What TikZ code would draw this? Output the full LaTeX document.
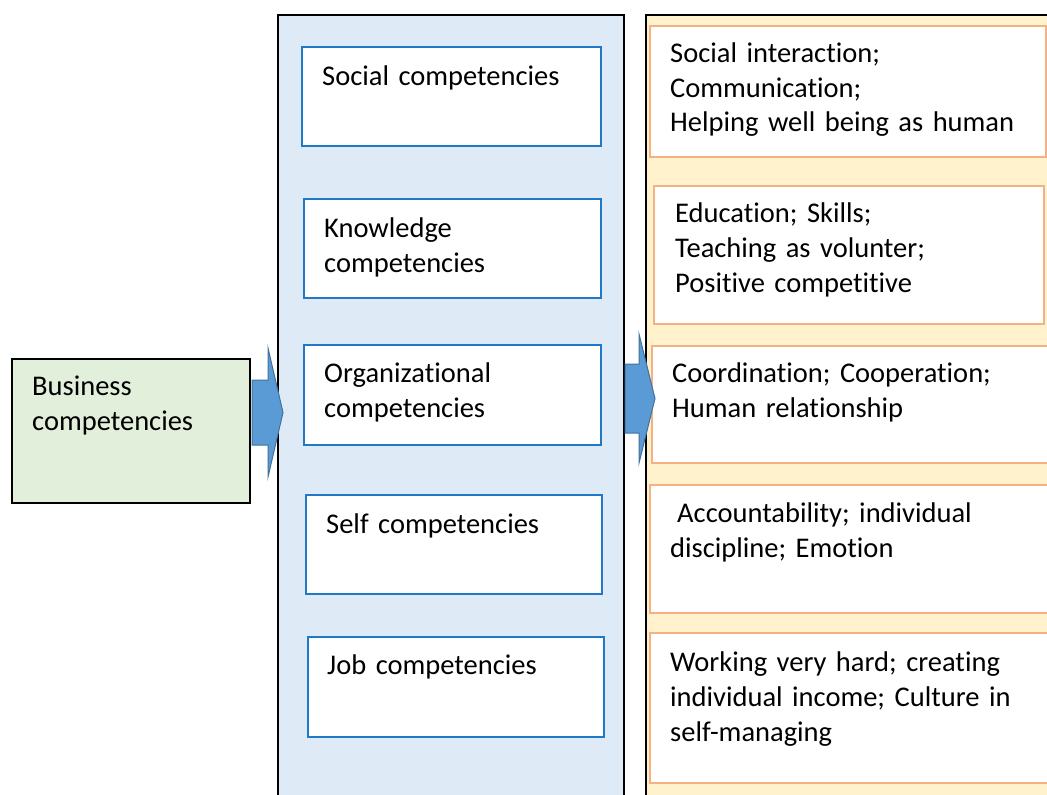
\documentclass[tikz,border=0pt]{standalone}
\usepackage{fontspec}
\setmainfont{Carlito}[Ligatures=NoCommon, WordSpace=0.75]
\definecolor{midfill}{HTML}{DEEBF7}
\definecolor{rightfill}{HTML}{FFF2CC}
\definecolor{busfill}{HTML}{E2EFDA}
\definecolor{bluebd}{HTML}{1F78C8}
\definecolor{orangebd}{HTML}{F4B183}
\definecolor{arrfill}{HTML}{5B9BD5}
\definecolor{arrdraw}{HTML}{41719C}
\begin{document}
\frenchspacing
\begin{tikzpicture}[x=1pt,y=-1pt,
  column/.style={draw=black, line width=1.7pt, anchor=north west, inner sep=0pt},
  midbox/.style={draw=bluebd, fill=white, line width=1.6pt, anchor=north west, inner sep=0pt},
  rbox/.style={draw=orangebd, fill=white, line width=1.7pt, anchor=north west, inner sep=0pt},
  txt/.style={anchor=base west, inner sep=0pt, text width=370pt, align=left, font=\fontsize{28.5}{35}\selectfont},
  blockarrow/.style={fill=arrfill, draw=arrdraw, line width=1pt, line join=miter}]
\useasboundingbox (0,0) rectangle (1047,795);
% columns
\node[column, fill=midfill, minimum width=346pt, minimum height=800pt] (mid) at (277,14) {};
\node[column, fill=rightfill, minimum width=430pt, minimum height=800pt] (right) at (645,14) {};
% business box
\node[column, fill=busfill, line width=1.5pt, minimum width=238pt, minimum height=144pt] (bus) at (11,358) {};
% middle boxes
\node[midbox, minimum width=299pt, minimum height=99pt] (m1) at (301,46) {};
\node[midbox, minimum width=297pt, minimum height=99pt] (m2) at (303,198) {};
\node[midbox, minimum width=297pt, minimum height=100pt] (m3) at (303,344) {};
\node[midbox, minimum width=296pt, minimum height=99pt] (m4) at (305,494) {};
\node[midbox, minimum width=296pt, minimum height=100pt] (m5) at (307,636) {};
% right boxes
\node[rbox, minimum width=396pt, minimum height=131pt] (r1) at (649,25) {};
\node[rbox, minimum width=390pt, minimum height=138pt] (r2) at (653,185) {};
\node[rbox, minimum width=420pt, minimum height=117pt] (r3) at (651,345) {};
\node[rbox, minimum width=420pt, minimum height=128pt] (r4) at (649,484) {};
\node[rbox, minimum width=420pt, minimum height=150pt] (r5) at (649,632) {};
% block arrows
\draw[blockarrow] (252,380) -- (268,380) -- (268,348) -- (283,412.5) -- (268,477) -- (268,445) -- (252,445) -- cycle;
\draw[blockarrow] (625,364) -- (639,364) -- (639,334) -- (655,398.5) -- (639,463) -- (639,433) -- (625,433) -- cycle;
% texts
\node[txt] (tbus) at (32,395) {Business\\competencies};
\node[txt] (tm1) at (322,85) {Social competencies};
\node[txt] (tm2) at (324,237) {Knowledge\\competencies};
\node[txt] (tm3) at (324,382) {Organizational\\competencies};
\node[txt] (tm4) at (326,533) {Self competencies};
\node[txt] (tm5) at (327,674) {Job competencies};
\node[txt] (tr1) at (670,62) {Social interaction;\\Communication;\\Helping well being as human};
\node[txt] (tr2) at (675,222) {Education; Skills;\\Teaching as volunter;\\Positive competitive};
\node[txt] (tr3) at (672,382) {Coordination; Cooperation;\\Human relationship};
\node[txt] (tr4) at (670,522) {\hspace*{7pt}Accountability; individual\\discipline; Emotion};
\node[txt] (tr5) at (670,671) {Working very hard; creating\\individual income; Culture in\\self-managing};
\end{tikzpicture}
\end{document}
